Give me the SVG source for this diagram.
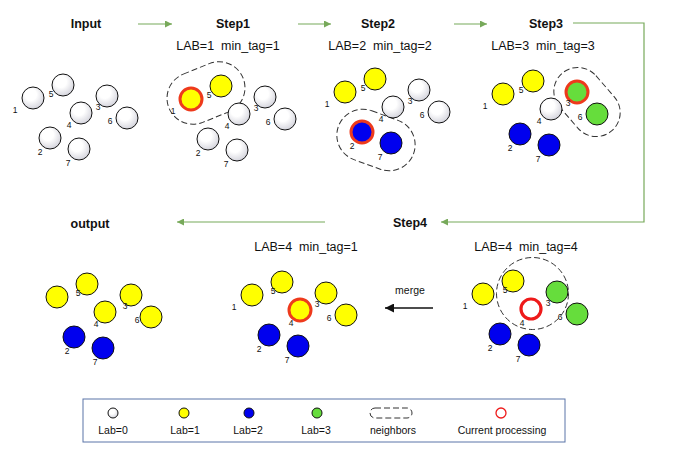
<svg xmlns="http://www.w3.org/2000/svg" width="699" height="450" viewBox="0 0 699 450">
<style>
.t{font-family:"Liberation Sans",Arial,sans-serif;font-weight:bold;font-size:12.5px;fill:#111;text-anchor:middle}
.s{font-family:"Liberation Sans",Arial,sans-serif;font-size:12.5px;fill:#111;text-anchor:middle}
.n{font-family:"Liberation Sans",Arial,sans-serif;font-size:8.5px;fill:#111;text-anchor:middle}
.l{font-family:"Liberation Sans",Arial,sans-serif;font-size:10.5px;fill:#111;text-anchor:middle}
circle{stroke:#111;stroke-width:1}
.w{fill:url(#wg)}
.y{fill:#ffff00}
.b{fill:#0000ee}
.g{fill:#66dd3c}
.cur{stroke:#ee3a1c;stroke-width:3}
.ring{fill:#fff;stroke:#ee1a1a;stroke-width:3.2}
.lr{fill:#fff;stroke:#ee1a1a;stroke-width:1.3}
.dash{fill:none;stroke:#333;stroke-width:1;stroke-dasharray:6 3}
.ga{fill:none;stroke:#77a95a;stroke-width:1.2}
</style>
<defs>
<radialGradient id="wg" cx="40%" cy="35%" r="65%">
<stop offset="0.4" stop-color="#ffffff"/>
<stop offset="1" stop-color="#d6d6de"/>
</radialGradient>
<marker id="ag" viewBox="0 0 10 10" refX="10" refY="5" markerWidth="7" markerHeight="7" orient="auto" markerUnits="userSpaceOnUse">
<path d="M0,0 L10,5 L0,10 z" fill="#77a95a"/>
</marker>
<marker id="ab" viewBox="0 0 10 10" refX="10" refY="5" markerWidth="9" markerHeight="9" orient="auto" markerUnits="userSpaceOnUse">
<path d="M0,0 L10,5 L0,10 z" fill="#111"/>
</marker>
</defs>
<rect width="699" height="450" fill="#fff"/>

<!-- titles -->
<text class="t" x="86" y="28">Input</text>
<text class="t" x="233" y="28">Step1</text>
<text class="s" x="228" y="50" xml:space="preserve">LAB=1  min_tag=1</text>
<text class="t" x="378" y="28">Step2</text>
<text class="s" x="380" y="50" xml:space="preserve">LAB=2  min_tag=2</text>
<text class="t" x="546" y="28">Step3</text>
<text class="s" x="543" y="50" xml:space="preserve">LAB=3  min_tag=3</text>
<text class="t" x="90" y="228">output</text>
<text class="t" x="410" y="227">Step4</text>
<text class="s" x="306" y="251" xml:space="preserve">LAB=4  min_tag=1</text>
<text class="s" x="526" y="251" xml:space="preserve">LAB=4  min_tag=4</text>
<text class="l" x="410" y="294">merge</text>

<!-- connectors -->
<g id="connectors">
<line class="ga" x1="138" y1="24" x2="172" y2="24" marker-end="url(#ag)"/>
<line class="ga" x1="298" y1="24" x2="331" y2="24" marker-end="url(#ag)"/>
<line class="ga" x1="454" y1="24" x2="487" y2="24" marker-end="url(#ag)"/>
<polyline class="ga" points="573,23 644,23 644,222 441,222" marker-end="url(#ag)"/>
<line class="ga" x1="325" y1="222" x2="177" y2="222" marker-end="url(#ag)"/>
<line x1="433" y1="308" x2="385" y2="308" stroke="#111" stroke-width="1.5" marker-end="url(#ab)"/>
</g>

<!-- Input panel -->
<g id="input">
<g id="in-n1"><circle class="w" cx="33" cy="98" r="11"/><text class="n" x="15" y="113">1</text></g>
<g id="in-n5"><circle class="w" cx="63" cy="85" r="11"/><text class="n" x="51" y="97">5</text></g>
<g id="in-n4"><circle class="w" cx="81" cy="113" r="11"/><text class="n" x="69" y="128">4</text></g>
<g id="in-n3"><circle class="w" cx="107" cy="96" r="11"/><text class="n" x="98" y="110">3</text></g>
<g id="in-n6"><circle class="w" cx="127" cy="118" r="11"/><text class="n" x="110" y="124">6</text></g>
<g id="in-n2"><circle class="w" cx="50" cy="138" r="11"/><text class="n" x="40" y="155">2</text></g>
<g id="in-n7"><circle class="w" cx="79" cy="149" r="11"/><text class="n" x="68" y="166">7</text></g>
</g>

<!-- Step1 panel -->
<g id="step1" transform="translate(158,1)">
<rect class="dash" x="8" y="66" width="80" height="52" rx="26" transform="rotate(-22 48 92)"/>
<g id="s1-n1"><circle class="y cur" cx="33" cy="98" r="11"/><text class="n" x="15" y="113">1</text></g>
<g id="s1-n5"><circle class="y" cx="63" cy="85" r="11"/><text class="n" x="51" y="97">5</text></g>
<g id="s1-n4"><circle class="w" cx="81" cy="113" r="11"/><text class="n" x="69" y="128">4</text></g>
<g id="s1-n3"><circle class="w" cx="107" cy="96" r="11"/><text class="n" x="98" y="110">3</text></g>
<g id="s1-n6"><circle class="w" cx="127" cy="118" r="11"/><text class="n" x="110" y="124">6</text></g>
<g id="s1-n2"><circle class="w" cx="50" cy="138" r="11"/><text class="n" x="40" y="155">2</text></g>
<g id="s1-n7"><circle class="w" cx="79" cy="149" r="11"/><text class="n" x="68" y="166">7</text></g>
</g>

<!-- Step2 panel -->
<g id="step2" transform="translate(312,-6)">
<rect class="dash" x="24" y="120" width="80" height="52" rx="26" transform="rotate(20 64 146)"/>
<g id="s2-n1"><circle class="y" cx="33" cy="98" r="11"/><text class="n" x="15" y="113">1</text></g>
<g id="s2-n5"><circle class="y" cx="63" cy="85" r="11"/><text class="n" x="51" y="97">5</text></g>
<g id="s2-n4"><circle class="w" cx="81" cy="113" r="11"/><text class="n" x="69" y="128">4</text></g>
<g id="s2-n3"><circle class="w" cx="107" cy="96" r="11"/><text class="n" x="98" y="110">3</text></g>
<g id="s2-n6"><circle class="w" cx="127" cy="118" r="11"/><text class="n" x="110" y="124">6</text></g>
<g id="s2-n2"><circle class="b cur" cx="50" cy="138" r="11"/><text class="n" x="40" y="155">2</text></g>
<g id="s2-n7"><circle class="b" cx="79" cy="149" r="11"/><text class="n" x="68" y="166">7</text></g>
</g>

<!-- Step3 panel -->
<g id="step3" transform="translate(470,-4)">
<rect class="dash" x="79" y="82" width="76" height="48" rx="24" transform="rotate(49 117 106)"/>
<g id="s3-n1"><circle class="y" cx="33" cy="98" r="11"/><text class="n" x="15" y="113">1</text></g>
<g id="s3-n5"><circle class="y" cx="63" cy="85" r="11"/><text class="n" x="51" y="97">5</text></g>
<g id="s3-n4"><circle class="w" cx="81" cy="113" r="11"/><text class="n" x="69" y="128">4</text></g>
<g id="s3-n3"><circle class="g cur" cx="107" cy="96" r="11"/><text class="n" x="98" y="110">3</text></g>
<g id="s3-n6"><circle class="g" cx="127" cy="118" r="11"/><text class="n" x="110" y="124">6</text></g>
<g id="s3-n2"><circle class="b" cx="50" cy="138" r="11"/><text class="n" x="40" y="155">2</text></g>
<g id="s3-n7"><circle class="b" cx="79" cy="149" r="11"/><text class="n" x="68" y="166">7</text></g>
</g>

<!-- Step4 (right) panel -->
<g id="step4" transform="translate(450,196)">
<g id="s4-n1"><circle class="y" cx="33" cy="98" r="11"/><text class="n" x="15" y="113">1</text></g>
<g id="s4-n5"><circle class="y" cx="63" cy="85" r="11"/><text class="n" x="55" y="97">5</text></g>
<g id="s4-n3"><circle class="g" cx="107" cy="96" r="11"/><text class="n" x="98" y="110">3</text></g>
<g id="s4-n6"><circle class="g" cx="127" cy="118" r="11"/><text class="n" x="110" y="124">6</text></g>
<g id="s4-n2"><circle class="b" cx="50" cy="138" r="11"/><text class="n" x="40" y="155">2</text></g>
<g id="s4-n7"><circle class="b" cx="79" cy="149" r="11"/><text class="n" x="68" y="166">7</text></g>
<g id="s4-n4"><circle class="ring" cx="81" cy="113" r="10"/><text class="n" x="72" y="130">4</text></g>
<circle class="dash" cx="82.5" cy="97.5" r="36"/>
</g>

<!-- Step4 merged panel -->
<g id="merged" transform="translate(219,197)">
<g id="m-n1"><circle class="y" cx="33" cy="98" r="11"/><text class="n" x="15" y="113">1</text></g>
<g id="m-n5"><circle class="y" cx="63" cy="85" r="11"/><text class="n" x="54" y="97">5</text></g>
<g id="m-n3"><circle class="y" cx="107" cy="96" r="11"/><text class="n" x="98" y="110">3</text></g>
<g id="m-n6"><circle class="y" cx="127" cy="118" r="11"/><text class="n" x="110" y="124">6</text></g>
<g id="m-n2"><circle class="b" cx="50" cy="138" r="11"/><text class="n" x="40" y="155">2</text></g>
<g id="m-n7"><circle class="b" cx="79" cy="149" r="11"/><text class="n" x="68" y="166">7</text></g>
<g id="m-n4"><circle class="y cur" cx="81" cy="113" r="11"/><text class="n" x="72" y="129">4</text></g>
</g>

<!-- Output panel -->
<g id="output" transform="translate(24,199)">
<g id="o-n1"><circle class="y" cx="33" cy="98" r="11"/></g>
<g id="o-n5"><circle class="y" cx="63" cy="85" r="11"/><text class="n" x="54" y="97">5</text></g>
<g id="o-n4"><circle class="y" cx="81" cy="113" r="11"/><text class="n" x="72" y="128">4</text></g>
<g id="o-n3"><circle class="y" cx="107" cy="96" r="11"/><text class="n" x="101" y="110">3</text></g>
<g id="o-n6"><circle class="y" cx="127" cy="118" r="11"/><text class="n" x="113" y="124">6</text></g>
<g id="o-n2"><circle class="b" cx="50" cy="138" r="11"/><text class="n" x="43" y="155">2</text></g>
<g id="o-n7"><circle class="b" cx="79" cy="149" r="11"/><text class="n" x="71" y="166">7</text></g>
</g>

<!-- Legend -->
<g id="legend">
<rect x="83" y="399" width="482" height="43" fill="#fff" stroke="#5a74a8" stroke-width="1"/>
<circle class="w" cx="113" cy="413" r="5"/>
<text class="l" x="113" y="434">Lab=0</text>
<circle class="y" cx="184" cy="413" r="5"/>
<text class="l" x="185" y="434">Lab=1</text>
<circle class="b" cx="249" cy="413" r="5"/>
<text class="l" x="248" y="434">Lab=2</text>
<circle class="g" cx="317" cy="413" r="5"/>
<text class="l" x="316" y="434">Lab=3</text>
<rect class="dash" x="370" y="408" width="42" height="10" rx="5"/>
<text class="l" x="393" y="434">neighbors</text>
<circle class="lr" cx="501" cy="413" r="5"/>
<text class="l" x="502" y="434">Current processing</text>
</g>
</svg>
